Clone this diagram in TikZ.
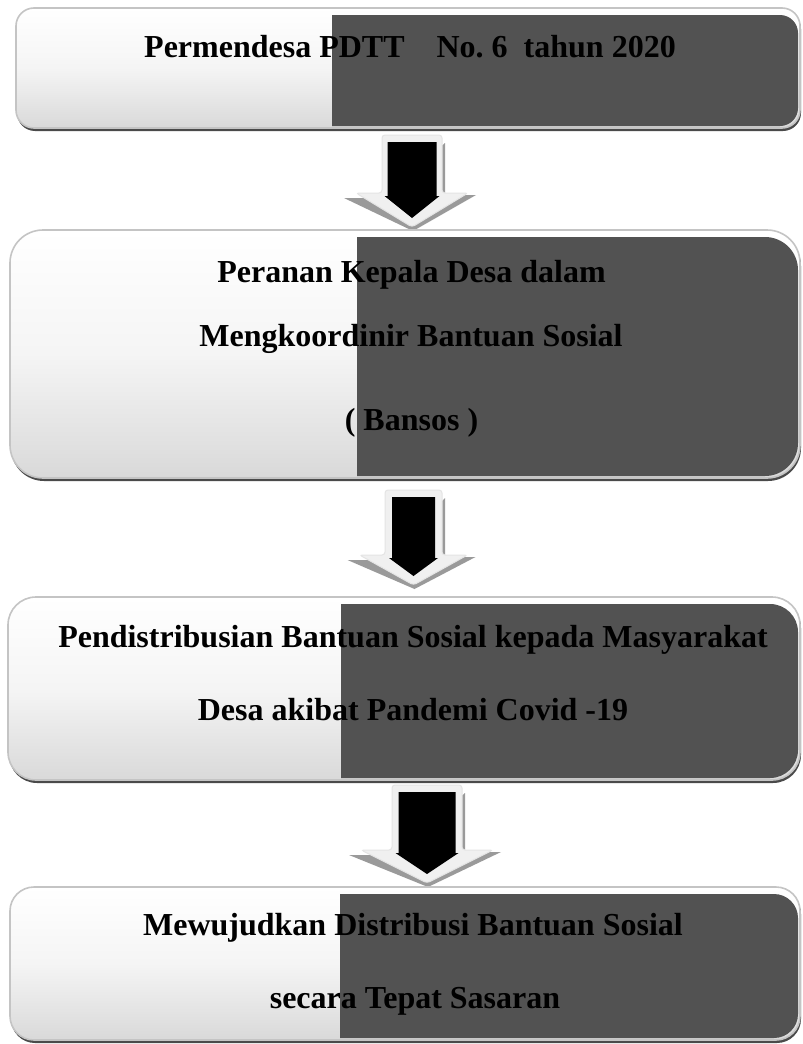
\documentclass[tikz,border=0pt]{standalone}
\usepackage{fontspec}
\setmainfont{Liberation Serif}
\definecolor{darkfill}{HTML}{525252}
\definecolor{edgec}{HTML}{C4C4C4}
\definecolor{shadowc}{HTML}{4A4A4A}
\definecolor{boxbottom}{HTML}{D9D9D9}
\definecolor{arrowlight}{HTML}{F0F0F0}
\definecolor{arrowedge}{HTML}{E4E4E4}
\definecolor{arrowshadow}{HTML}{9A9A9A}
\tikzset{
  boxtext/.style={font=\fontsize{32}{38}\selectfont\bfseries, anchor=base, inner sep=0pt, text=black},
}
% #1 left, #2 top, #3 right, #4 bottom, #5 radius, #6 dark left
\newcommand\flowbox[6]{%
  \fill[shadowc, rounded corners=#5pt] (#1+1,#2+3) rectangle (#3+1,#4+3);
  \shade[top color=white, bottom color=boxbottom, middle color=white!96!black, rounded corners=#5pt] (#1,#2) rectangle (#3,#4);
  \begin{scope}
    \clip (#6,#2) rectangle (#3+5,#4+5);
    \fill[darkfill, rounded corners=#5pt] (#6-#5-10,#2+7) rectangle (#3-2,#4-2);
  \end{scope}
  \draw[edgec, line width=1.6pt, rounded corners=#5pt] (#1,#2) rectangle (#3,#4);
}
% #1 cx, #2 top, #3 wing y, #4 tip, #5 half shaft, #6 half wing, #7 inner half shaft
\newcommand\flowarrow[7]{%
  \fill[arrowshadow] (#1+#5+3,#2+8) -- (#1+#5+3,#3+2) -- (#1+#6+8,#3+2) -- (#1+1,#4+4) -- (#1-#6-12,#3+5) -- (#1-#5,#3+5) -- cycle;
  \filldraw[fill=arrowlight, draw=arrowedge, line width=1pt, rounded corners=3pt] (#1-#5,#2) -- (#1+#5,#2) -- (#1+#5,#3) -- (#1+#6,#3) -- (#1,#4) -- (#1-#6,#3) -- (#1-#5,#3) -- cycle;
  \fill[black] (#1-#7,#2+7) -- (#1+#7,#2+7) -- (#1+#7,#3+3) -- (#1+#7+3,#3+3) -- (#1,#4-9) -- (#1-#7-3,#3+3) -- (#1-#7,#3+3) -- cycle;
}
\begin{document}
\frenchspacing
\begin{tikzpicture}[x=1pt,y=-1pt]
\useasboundingbox (0,0) rectangle (803,1044);
\fill[white] (0,0) rectangle (803,1044);

\flowbox{16}{8}{800}{128}{18}{332}
\node[boxtext] (b1a) at (410,57) {Permendesa PDTT\ \ \ \ No. 6\ \ tahun 2020};

\flowarrow{412}{135}{193}{227}{30}{56}{24.5}

\flowbox{10}{230}{800}{478}{33}{357}
\node[boxtext] (b2a) at (411.5,282) {Peranan Kepala Desa dalam};
\node[boxtext] (b2b) at (411,346) {Mengkoordinir Bantuan Sosial};
\node[boxtext] (b2c) at (411.5,430) {( Bansos )};

\flowarrow{413.5}{490}{555}{585}{28.5}{54}{21.5}

\flowbox{8}{597}{800}{780}{28}{341}
\node[boxtext] (b3a) at (413,647) {Pendistribusian Bantuan Sosial kepada Masyarakat};
\node[boxtext] (b3b) at (413,720) {Desa akibat Pandemi Covid -19};

\flowarrow{427}{785}{850}{883}{35}{66}{28.5}

\flowbox{10}{887}{800}{1040}{24}{340}
\node[boxtext] (b4a) at (413,935) {Mewujudkan Distribusi Bantuan Sosial};
\node[boxtext] (b4b) at (415,1008) {secara Tepat Sasaran};
\end{tikzpicture}
\end{document}
